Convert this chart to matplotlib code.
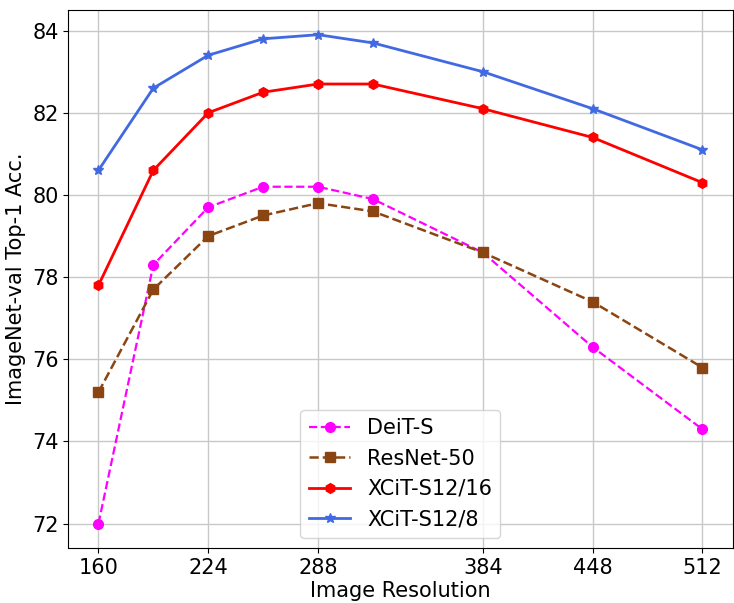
import matplotlib
matplotlib.use('Agg')
import matplotlib.pyplot as plt

# Image resolutions and top-1 accuracies
resolutions = [160, 192, 224, 256, 288, 320, 384, 448, 512]
deit_s = [72.0, 78.3, 79.7, 80.2, 80.2, 79.9, 78.6, 76.3, 74.3]
resnet50 = [75.2, 77.7, 79.0, 79.5, 79.8, 79.6, 78.6, 77.4, 75.8]
xcit_s12_16 = [77.8, 80.6, 82.0, 82.5, 82.7, 82.7, 82.1, 81.4, 80.3]
xcit_s12_8 = [80.6, 82.6, 83.4, 83.8, 83.9, 83.7, 83.0, 82.1, 81.1]

xticks = [160, 224, 288, 384, 448, 512]
yticks = [72, 74, 76, 78, 80, 82, 84]

fig = plt.figure(figsize=(7.34, 6.03), dpi=100)
ax = fig.add_axes([0.093, 0.091, 0.905, 0.892])

ax.plot(resolutions, deit_s, color='magenta', linestyle='--', marker='o',
        markersize=7, linewidth=1.6, label='DeiT-S')
ax.plot(resolutions, resnet50, color='#8B4513', linestyle='--', marker='s',
        markersize=7, linewidth=1.8, label='ResNet-50')
ax.plot(resolutions, xcit_s12_16, color='red', linestyle='-', marker='h',
        markersize=7, linewidth=2.0, label='XCiT-S12/16')
ax.plot(resolutions, xcit_s12_8, color='royalblue', linestyle='-', marker='*',
        markersize=7, linewidth=2.0, label='XCiT-S12/8')

ax.set_xticks(xticks)
ax.set_yticks(yticks)
ax.tick_params(labelsize=15)
ax.set_xlabel('Image Resolution', fontsize=15, labelpad=2)
ax.set_ylabel('ImageNet-val Top-1 Acc.', fontsize=15)
ax.grid(True, color='#c8c8c8', linewidth=1)
ax.set_axisbelow(True)
ax.legend(loc='lower center', fontsize=15)

fig.savefig('out.png', dpi=100)
